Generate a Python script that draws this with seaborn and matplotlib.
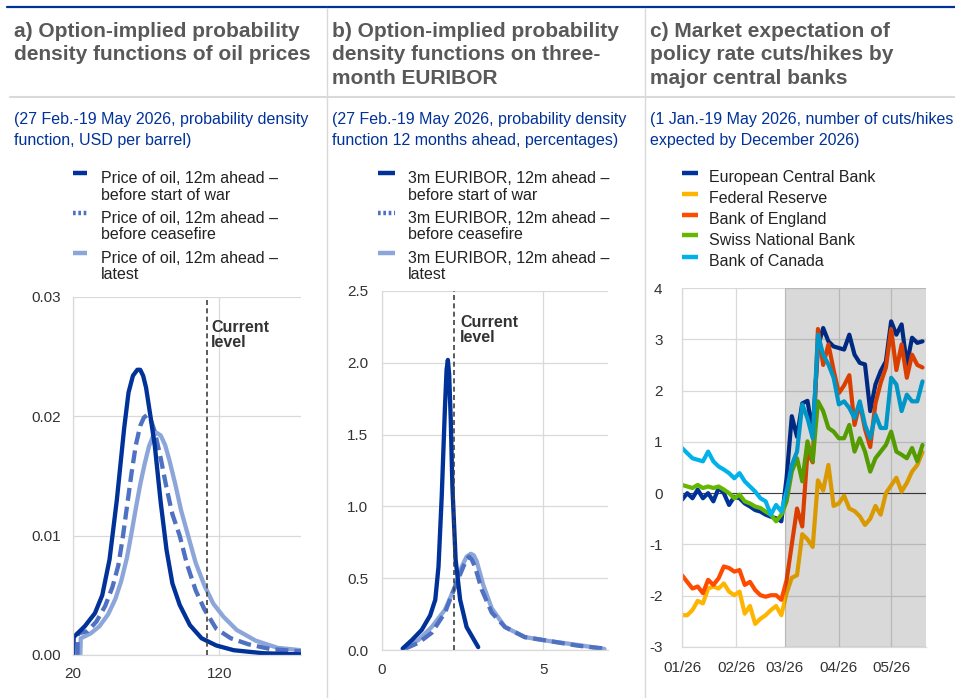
import numpy as np
import pandas as pd
import matplotlib
matplotlib.use('Agg')
import matplotlib.pyplot as plt
import matplotlib.dates as mdates
from matplotlib.lines import Line2D
import seaborn as sns

# --- a) oil price densities (USD per barrel) ---
oil_war_x = [20, 20.5, 28, 35, 40, 45, 50, 55, 58, 61, 64, 66, 68, 70, 73, 76, 80, 84, 88, 93, 100, 108, 118, 130, 150, 176]
oil_war_y = [0, 0.0015, 0.0024, 0.0035, 0.005, 0.008, 0.013, 0.019, 0.022, 0.0234, 0.0239, 0.0239, 0.0234, 0.0224, 0.020, 0.0175,
             0.0128, 0.0088, 0.006, 0.0042, 0.0025, 0.0014, 0.0008, 0.0004, 0.00015, 0.00005]
oil_cease_x = [23, 23.3, 30, 36, 42, 47, 51, 54, 57, 60, 63, 66, 68.5, 70.6, 73, 76, 80, 84, 88, 93, 98, 104, 110, 118, 128, 140, 155, 176]
oil_cease_y = [0, 0.0018, 0.0020, 0.0028, 0.0041, 0.0057, 0.0075, 0.0098, 0.0125, 0.0152, 0.0176, 0.0192, 0.0199, 0.0201, 0.0198,
               0.0187, 0.0165, 0.0140, 0.0118, 0.0100, 0.0076, 0.0054, 0.0038, 0.0022, 0.0014, 0.0009, 0.0005, 0.0003]
oil_latest_x = [25, 25.3, 32, 38, 44, 49, 53, 57, 60, 63, 66, 69, 72, 75, 77.5, 80, 83, 86, 90, 94, 99, 104, 110, 116, 123, 132, 145, 160, 176]
oil_latest_y = [0, 0.0014, 0.0018, 0.0024, 0.0034, 0.0047, 0.0062, 0.0082, 0.0102, 0.0123, 0.0143, 0.0160, 0.0175, 0.0184, 0.0186,
                0.0184, 0.0176, 0.0163, 0.0143, 0.0121, 0.0099, 0.0077, 0.0058, 0.0043, 0.0032, 0.0021, 0.0012, 0.0006, 0.0004]
oil_current = 112

# --- b) 3m EURIBOR densities (percentages) ---
eur_war_x = [0.64, 0.93, 1.23, 1.49, 1.65, 1.75, 1.85, 1.95, 2.0, 2.04, 2.08, 2.13, 2.18, 2.28, 2.42, 2.62, 2.98]
eur_war_y = [0.01, 0.07, 0.14, 0.24, 0.35, 0.58, 1.07, 1.69, 1.95, 2.02, 1.92, 1.60, 1.14, 0.63, 0.35, 0.16, 0.02]
eur_cease_x = [0.72, 1.13, 1.54, 1.95, 2.26, 2.52, 2.62, 2.70, 2.78, 2.88, 3.09, 3.40, 3.81, 4.42, 5.25, 6.07, 6.89]
eur_cease_y = [0.01, 0.05, 0.12, 0.26, 0.44, 0.58, 0.63, 0.65, 0.63, 0.58, 0.42, 0.26, 0.16, 0.09, 0.06, 0.03, 0.01]
eur_latest_x = [0.67, 1.13, 1.54, 1.95, 2.26, 2.47, 2.62, 2.75, 2.84, 2.93, 3.14, 3.40, 3.81, 4.42, 5.25, 6.07, 6.89]
eur_latest_y = [0.01, 0.07, 0.16, 0.28, 0.44, 0.58, 0.65, 0.67, 0.66, 0.62, 0.45, 0.29, 0.16, 0.09, 0.06, 0.035, 0.007]
eur_current = 2.24

# --- c) expected cuts/hikes by December 2026 ---
dates = pd.date_range('2026-01-01', '2026-05-19', freq='3D')
ecb = [-0.13, 0.0, -0.10, 0.07, -0.10, 0.0, -0.16, 0.10, 0.0, -0.23, -0.07, -0.10, -0.20, -0.26, -0.33, -0.36, -0.42, -0.46, -0.49, -0.55,
       0.30, 1.50, 1.10, 1.75, 1.80, 1.20, 2.85, 3.22, 2.96, 2.86, 2.83, 2.80, 3.09, 2.70, 2.54, 2.51, 1.60, 2.12, 2.38, 2.57, 3.35, 3.09, 3.29, 2.51, 3.03, 2.93, 2.96]
fed = [-2.38, -2.38, -2.28, -2.10, -2.15, -1.86, -1.82, -1.86, -1.76, -1.92, -1.99, -1.92, -2.35, -2.20, -2.55, -2.45, -2.38, -2.28, -2.20, -2.38,
       -1.95, -1.65, -1.60, -0.80, -0.90, -1.05, 0.25, 0.05, 0.55, -0.25, -0.20, -0.05, -0.30, -0.35, -0.45, -0.62, -0.50, -0.25, -0.42, 0.00, 0.15, 0.30, 0.03, 0.20, 0.42, 0.55, 0.80]
boe = [-1.60, -1.73, -1.86, -1.82, -1.95, -1.69, -1.79, -1.66, -1.43, -1.46, -1.53, -1.50, -1.79, -1.73, -1.89, -1.99, -2.02, -1.99, -1.99, -2.08,
       -1.70, -1.00, -0.30, -0.65, 0.80, 0.60, 3.20, 2.50, 2.90, 2.40, 1.95, 2.10, 2.30, 1.33, 1.75, 1.25, 0.90, 1.75, 2.15, 2.45, 3.20, 2.40, 2.90, 2.25, 2.70, 2.50, 2.45]
snb = [0.16, 0.13, 0.10, 0.16, 0.10, 0.13, 0.10, 0.13, 0.07, 0.0, -0.10, -0.03, -0.16, -0.20, -0.26, -0.29, -0.36, -0.42, -0.55, -0.42,
       -0.16, 0.42, 0.68, 0.23, 1.01, 0.62, 1.79, 1.60, 1.27, 1.20, 1.07, 1.07, 1.33, 0.81, 1.07, 0.81, 0.42, 0.68, 0.81, 0.94, 1.20, 0.81, 0.75, 0.68, 0.88, 0.62, 0.94]
boc = [0.88, 0.78, 0.68, 0.65, 0.62, 0.81, 0.62, 0.52, 0.46, 0.39, 0.29, 0.39, 0.23, 0.13, 0.03, -0.10, -0.16, -0.42, -0.23, -0.36,
       0.03, 0.55, 0.81, 1.73, 1.46, 1.07, 3.09, 2.70, 2.51, 2.25, 1.73, 1.79, 1.66, 1.46, 1.79, 1.33, 1.07, 1.53, 1.27, 1.27, 2.25, 2.12, 1.60, 1.92, 1.79, 1.79, 2.18]
banks = ['European Central Bank', 'Federal Reserve', 'Bank of England', 'Swiss National Bank', 'Bank of Canada']
bank_colors = ['#003299', '#ffb400', '#ff4b00', '#65b800', '#00b1ea']

labels_a = ['Price of oil, 12m ahead –\nbefore start of war', 'Price of oil, 12m ahead –\nbefore ceasefire', 'Price of oil, 12m ahead –\nlatest']
labels_b = ['3m EURIBOR, 12m ahead –\nbefore start of war', '3m EURIBOR, 12m ahead –\nbefore ceasefire', '3m EURIBOR, 12m ahead –\nlatest']
pdf_colors = ['#003299', '#4f71c2', '#8da6da']

sns.set_theme(style='white')
plt.rcParams['font.family'] = ['Liberation Sans', 'DejaVu Sans']
plt.rcParams['axes.unicode_minus'] = False

W, H = 955, 698
fig = plt.figure(figsize=(W / 100, H / 100), dpi=100)


def px(x, y):
    return x / W, 1 - y / H


def axes_px(left, top, right, bottom):
    return fig.add_axes([left / W, 1 - bottom / H, (right - left) / W, (bottom - top) / H])


GRID = '#d9d9d9'
TXT = '#333333'


def style_axes(ax):
    ax.grid(True, color=GRID, lw=0.9)
    ax.set_axisbelow(True)
    for s in ['top', 'right']:
        ax.spines[s].set_visible(False)
    for s in ['left', 'bottom']:
        ax.spines[s].set_color(GRID)
        ax.spines[s].set_linewidth(0.9)
    ax.tick_params(length=0, labelsize=11, colors=TXT)
    ax.set_xlabel('')
    ax.set_ylabel('')


def pdf_lines(ax, curves):
    # latest first, then ceasefire (dashed), then before war on top
    for i in [2, 1, 0]:
        x, y = curves[i]
        sns.lineplot(x=x, y=y, ax=ax, color=pdf_colors[i], lw=3.1, estimator=None, sort=False)
        ln = ax.lines[-1]
        ln.set_solid_capstyle('round')
        ln.set_solid_joinstyle('round')
        if i == 1:
            ln.set_dashes([3.0, 1.4])


# panel a
ax_a = axes_px(73, 297, 301, 655)
pdf_lines(ax_a, [(oil_war_x, oil_war_y), (oil_cease_x, oil_cease_y), (oil_latest_x, oil_latest_y)])
ax_a.axvline(oil_current, color='#404040', lw=1.2, ls=(0, (3, 2)), zorder=5)
ax_a.set_xlim(20, 176)
ax_a.set_ylim(0, 0.03)
ax_a.set_xticks([20, 120])
ax_a.set_yticks([0, 0.01, 0.02, 0.03])
ax_a.set_yticklabels(['0.00', '0.01', '0.02', '0.03'])
style_axes(ax_a)
ax_a.tick_params(axis='y', pad=9)
ax_a.tick_params(axis='x', pad=9)

# panel b
ax_b = axes_px(382, 291, 608, 650)
pdf_lines(ax_b, [(eur_war_x, eur_war_y), (eur_cease_x, eur_cease_y), (eur_latest_x, eur_latest_y)])
ax_b.axvline(eur_current, color='#404040', lw=1.2, ls=(0, (3, 2)), zorder=5)
ax_b.set_xlim(0, 7)
ax_b.set_ylim(0, 2.5)
ax_b.set_xticks([0, 5])
ax_b.set_yticks([0, 0.5, 1.0, 1.5, 2.0, 2.5])
ax_b.set_yticklabels(['0.0', '0.5', '1.0', '1.5', '2.0', '2.5'])
style_axes(ax_b)
ax_b.tick_params(axis='y', pad=10)
ax_b.tick_params(axis='x', pad=9)

# panel c
ax_c = axes_px(682, 288, 926, 647)
df_c = pd.DataFrame({
    'date': np.tile(dates, len(banks)),
    'bank': np.repeat(banks, len(dates)),
    'value': ecb + fed + boe + snb + boc,
})
sns.lineplot(data=df_c, x='date', y='value', hue='bank', hue_order=banks,
             palette=bank_colors, lw=3.0, ax=ax_c, legend=False, estimator=None)
x_end = pd.Timestamp('2026-05-21')
ax_c.axhline(0, color='#404040', lw=0.8, zorder=1.5)
ax_c.axvspan(pd.Timestamp('2026-03-01'), x_end, color='black', alpha=0.15, lw=0, zorder=3)
ax_c.set_xlim(pd.Timestamp('2026-01-01'), x_end)
ax_c.set_ylim(-3, 4)
ax_c.set_yticks(range(-3, 5))
ax_c.set_xticks(pd.date_range('2026-01-01', '2026-05-01', freq='MS'))
ax_c.xaxis.set_major_formatter(mdates.DateFormatter('%m/%y'))
style_axes(ax_c)
ax_c.tick_params(axis='y', pad=14)
ax_c.tick_params(axis='x', pad=10)

# header, separators
fig.add_artist(Line2D([7 / W, 1], [1 - 7 / H] * 2, color='#003299', lw=1.6))
fig.add_artist(Line2D([10 / W, 1], [1 - 97 / H] * 2, color=GRID, lw=1.5))
for xd in [327, 645]:
    fig.add_artist(Line2D([xd / W] * 2, [0, 1 - 8 / H], color=GRID, lw=1.0))

titles = ['a) Option-implied probability\ndensity functions of oil prices',
          'b) Option-implied probability\ndensity functions on three-\nmonth EURIBOR',
          'c) Market expectation of\npolicy rate cuts/hikes by\nmajor central banks']
subtitles = ['(27 Feb.-19 May 2026, probability density\nfunction, USD per barrel)',
             '(27 Feb.-19 May 2026, probability density\nfunction 12 months ahead, percentages)',
             '(1 Jan.-19 May 2026, number of cuts/hikes\nexpected by December 2026)']
title_x = [14, 332, 650]
for tx, t, s in zip(title_x, titles, subtitles):
    fig.text(*px(tx, 22), t, fontsize=15, weight='bold', color='#595959', va='top', linespacing=1.3)
    fig.text(*px(tx, 130), s, fontsize=11.5, color='#003299', va='center', linespacing=1.55)

# legends a and b
handle_ys = [173, 213, 253]
text_ys = [187, 226.5, 266.5]
for (hx0, hx1, tx, labels) in [(73, 87, 101, labels_a), (378, 395, 408, labels_b)]:
    for i, lab in enumerate(labels):
        ls = (0, (0.6, 0.6)) if i == 1 else '-'
        fig.add_artist(Line2D([hx0 / W, hx1 / W], [1 - handle_ys[i] / H] * 2,
                              color=pdf_colors[i], lw=3.2, ls=ls, solid_capstyle='butt'))
        fig.text(*px(tx, text_ys[i]), lab, fontsize=11.5, color='#222222', va='center', linespacing=1.12)

# legend c
for i, (b, c) in enumerate(zip(banks, bank_colors)):
    y = 177.5 + 21 * i
    fig.add_artist(Line2D([682 / W, 698 / W], [1 - (y - 5) / H] * 2, color=c, lw=3.2, solid_capstyle='butt'))
    fig.text(*px(709, y), b, fontsize=11.5, color='#222222', va='center')

# current level labels
for (cx, cy) in [(211, 335), (460, 330)]:
    fig.text(*px(cx, cy), 'Current\nlevel', fontsize=11.5, weight='bold', color='#333333', va='center', linespacing=1.0)

fig.savefig('out.png', dpi=100)
